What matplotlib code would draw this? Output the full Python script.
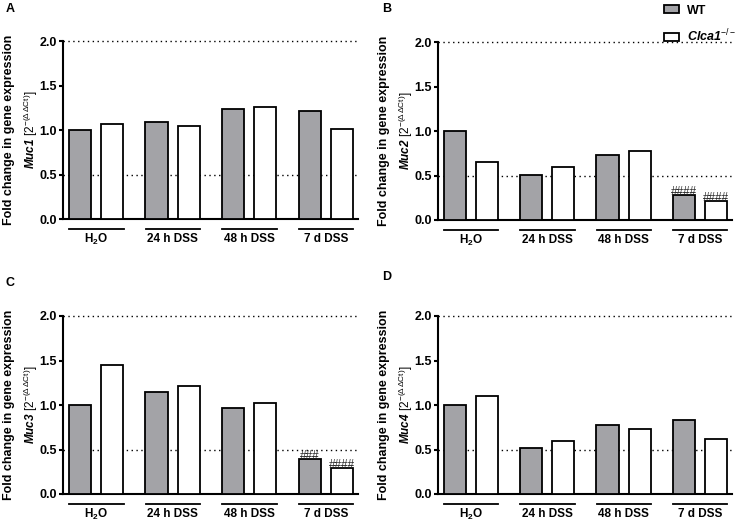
import numpy as np
import matplotlib
matplotlib.use("Agg")
import matplotlib.pyplot as plt
from matplotlib.patches import Patch
import matplotlib.transforms as mtransforms

plt.rcParams['font.family'] = ['Liberation Sans', 'DejaVu Sans']
plt.rcParams['mathtext.fontset'] = 'custom'
plt.rcParams['mathtext.rm'] = 'Liberation Sans'
plt.rcParams['mathtext.it'] = 'Liberation Sans:italic'
plt.rcParams['mathtext.bf'] = 'Liberation Sans:bold'
plt.rcParams['mathtext.sf'] = 'Liberation Sans:italic:bold'

# === Données ===
groups = [r"$\mathbf{H_2O}$", "24 h DSS", "48 h DSS", "7 d DSS"]
genes = ["Muc1", "Muc2", "Muc3", "Muc4"]
panels = ["A", "B", "C", "D"]

wt_muc1 = [1.00, 1.09, 1.24, 1.21]
ko_muc1 = [1.07, 1.05, 1.26, 1.01]
wt_muc2 = [1.00, 0.51, 0.73, 0.28]
ko_muc2 = [0.65, 0.60, 0.78, 0.21]
wt_muc3 = [1.00, 1.15, 0.97, 0.39]
ko_muc3 = [1.45, 1.21, 1.02, 0.29]
wt_muc4 = [1.00, 0.52, 0.78, 0.83]
ko_muc4 = [1.10, 0.60, 0.73, 0.62]

wt_all = [wt_muc1, wt_muc2, wt_muc3, wt_muc4]
ko_all = [ko_muc1, ko_muc2, ko_muc3, ko_muc4]

# annotations (#) : panel -> {(serie, groupe): texte}
hashes = {1: {(0, 3): "####", (1, 3): "####"},
          2: {(0, 3): "###", (1, 3): "####"}}

grey = "#a3a3a7"
x = np.arange(len(groups))
w = 0.29
off = 0.21

fig = plt.figure(figsize=(7.35, 5.23), dpi=100)
W, H = 735, 523
boxes = [(63, 219, 358), (438, 220, 732), (63, 494, 358), (438, 494, 732)]
letter_pos = [(10, 9), (387, 9), (10, 283), (387, 277)]

for i in range(4):
    left, bot, right = boxes[i]
    ax = fig.add_axes([left / W, 1 - bot / H, (right - left) / W, 178 / H])
    ax.bar(x - off, wt_all[i], w, color=grey, edgecolor="black", linewidth=1.3, zorder=3)
    ax.bar(x + off, ko_all[i], w, color="white", edgecolor="black", linewidth=1.3, zorder=3)
    ax.axhline(2.0, color="black", linestyle=(0, (1, 2.5)), linewidth=1, clip_on=False, zorder=1)
    ax.axhline(0.5, color="black", linestyle=(0, (1, 2.5)), linewidth=1, zorder=1)
    ax.set_xlim(-0.43, 3.42)
    ax.set_ylim(0, 2.0)
    ax.set_yticks([0, 0.5, 1.0, 1.5, 2.0])
    ax.set_yticklabels(["0.0", "0.5", "1.0", "1.5", "2.0"], fontweight="bold", fontsize=9)
    ax.set_xticks([])
    ax.tick_params(axis="y", direction="out", length=3, width=1.5, pad=1.5)
    for s in ["top", "right"]:
        ax.spines[s].set_visible(False)
    for s in ["left", "bottom"]:
        ax.spines[s].set_linewidth(1.5)

    trans = mtransforms.blended_transform_factory(ax.transData, ax.transAxes)
    for j, g in enumerate(groups):
        ax.plot([x[j] - 0.35, x[j] + 0.36], [-0.056, -0.056], color="black",
                linewidth=1.3, transform=trans, clip_on=False)
        ax.text(x[j], -0.115, g, transform=trans, ha="center", va="center",
                fontsize=8.5, fontweight="bold")

    if i in hashes:
        for (serie, j), txt in hashes[i].items():
            val = wt_all[i][j] if serie == 0 else ko_all[i][j]
            xx = x[j] - off if serie == 0 else x[j] + off
            ax.text(xx, val - 0.03, txt, ha="center", va="bottom", fontsize=8.5,
                    color="#222222", zorder=4)

    ax.text(-54 / (right - left), 0.5, "Fold change in gene expression", transform=ax.transAxes,
            rotation=90, ha="center", va="center", fontsize=9, fontweight="bold")
    ax.text(-32 / (right - left), 0.5,
            r"$\mathsf{" + genes[i] + r"}$ [2$^{-(\Delta\,\Delta \mathrm{Ct})}$]",
            transform=ax.transAxes, rotation=90, ha="center", va="center", fontsize=8.5)

    lx, ly = letter_pos[i]
    fig.text(lx / W, 1 - ly / H, panels[i], ha="center", va="center",
             fontsize=9, fontweight="bold")

handles = [Patch(facecolor=grey, edgecolor="black", linewidth=1.3),
           Patch(facecolor="white", edgecolor="black", linewidth=1.3)]
fig.legend(handles, ["WT", r"$\mathsf{Clca1}^{-/-}$"], loc="upper left",
           bbox_to_anchor=(656 / W, 1 + 3 / H), frameon=False,
           prop={"weight": "bold", "size": 9}, handlelength=1.2, handleheight=0.6,
           labelspacing=0.9, handletextpad=0.7, borderaxespad=0.2)

plt.savefig("out.png", dpi=100)
